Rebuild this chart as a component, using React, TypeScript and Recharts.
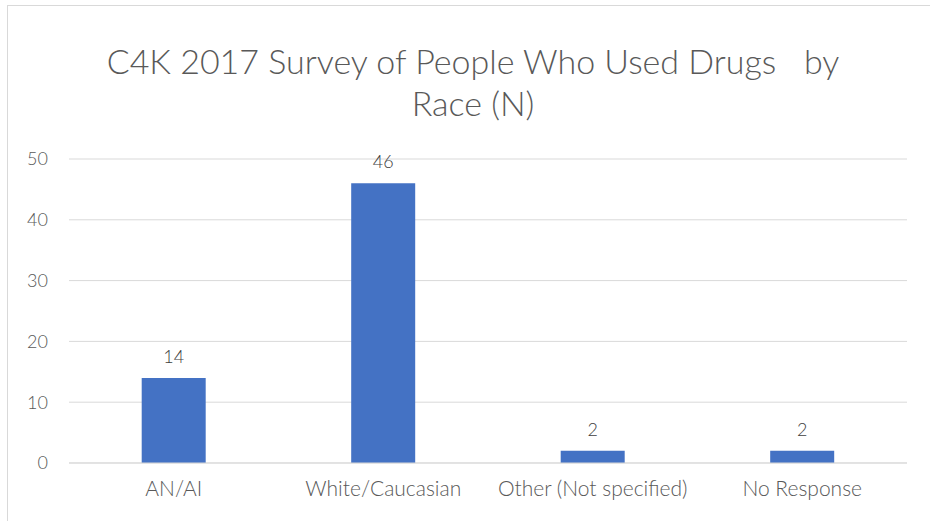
import React from 'react'
import { BarChart, Bar, XAxis, YAxis, CartesianGrid, LabelList } from 'recharts'

const categories = ['AN/AI', 'White/Caucasian', 'Other (Not specified)', 'No Response']
const counts = [14, 46, 2, 2]
const yTicks = [0, 10, 20, 30, 40, 50]

const data = categories.map((name, i) => ({ name, value: counts[i] }))

const labelFont = 'Lato, "Open Sans", sans-serif'

export default function App() {
  return (
    <div style={{ position: 'absolute', left: 0, top: 0, width: 930, height: 521, background: '#fff', overflow: 'hidden' }}>
      <div
        style={{
          position: 'absolute',
          left: 7,
          top: 5,
          width: 940,
          height: 540,
          border: '1px solid #d9d9d9',
          boxSizing: 'border-box'
        }}
      />
      <div
        style={{
          position: 'absolute',
          left: 7,
          top: 40,
          width: 932,
          textAlign: 'center',
          fontFamily: labelFont,
          fontWeight: 300,
          fontSize: 34,
          lineHeight: '42px',
          color: '#595959',
          whiteSpace: 'pre'
        }}
      >
        {'C4K 2017 Survey of People Who Used Drugs   by\nRace (N)'}
      </div>
      <div style={{ position: 'absolute', left: 0, top: 0 }}>
        <BarChart
          width={930}
          height={521}
          data={data}
          margin={{ top: 159, right: 23, bottom: 28, left: 0 }}
          barCategoryGap="34.7%"
        >
          <CartesianGrid vertical={false} stroke="#d9d9d9" strokeWidth={1} />
          <XAxis
            dataKey="name"
            axisLine={{ stroke: '#d9d9d9' }}
            tickLine={false}
            tick={{ fill: '#595959', fontSize: 21, fontFamily: labelFont, fontWeight: 300 }}
            tickMargin={12}
            interval={0}
          />
          <YAxis
            width={69}
            domain={[0, 50]}
            ticks={yTicks}
            axisLine={false}
            tickLine={false}
            tick={{ fill: '#595959', fontSize: 18, fontFamily: labelFont, fontWeight: 300 }}
            tickMargin={15}
          />
          <Bar dataKey="value" fill="#4472c4" isAnimationActive={false}>
            <LabelList
              dataKey="value"
              position="top"
              offset={15}
              fill="#404040"
              fontSize={18}
              fontFamily={labelFont}
              fontWeight={300}
            />
          </Bar>
        </BarChart>
      </div>
    </div>
  )
}
